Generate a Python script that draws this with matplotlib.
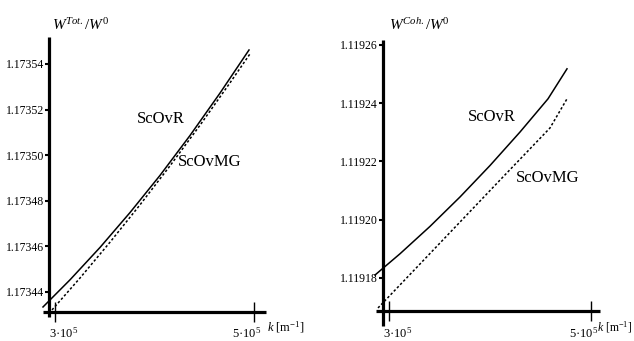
import matplotlib
matplotlib.use("Agg")
import matplotlib.pyplot as plt
import matplotlib.transforms as mtransforms

plt.rcParams['font.family'] = ['Liberation Serif', 'DejaVu Serif']
plt.rcParams['mathtext.fontset'] = 'custom'
plt.rcParams['mathtext.rm'] = 'Liberation Serif'
plt.rcParams['mathtext.it'] = 'Liberation Serif:italic'

# ---- data (left panel: total) ----
tot_r_k = [287940, 315075, 345225, 375375, 405525, 435675, 465825, 494970]
tot_r_w = [1.1734334, 1.1734453, 1.1734595, 1.1734748, 1.1734911, 1.1735086, 1.1735272, 1.1735461]
tot_mg_k = [296985, 325125, 355275, 385425, 415575, 445725, 475875, 495975]
tot_mg_w = [1.1734321, 1.1734461, 1.1734618, 1.1734782, 1.1734953, 1.1735131, 1.1735317, 1.1735444]
tot_yticks = [1.17344, 1.17346, 1.17348, 1.17350, 1.17352, 1.17354]

# ---- data (right panel: coherent) ----
coh_r_k = [286140, 310890, 340590, 370290, 399990, 429690, 457410, 476220]
coh_r_w = [1.1191810, 1.1191883, 1.1191977, 1.1192078, 1.1192186, 1.1192301, 1.1192415, 1.1192518]
coh_mg_k = [289110, 330690, 370290, 409890, 459390, 476220]
coh_mg_w = [1.1191697, 1.1191848, 1.1191992, 1.1192136, 1.1192315, 1.1192415]
coh_yticks = [1.11918, 1.11920, 1.11922, 1.11924, 1.11926]

xticks = [3e5, 5e5]
xtick_labels = ['3·10$^{5}$', '5·10$^{5}$']

W, H = 634, 341
fig = plt.figure(figsize=(W / 100, H / 100), dpi=100)


def px_axes(x0, x1, y0, y1):
    return fig.add_axes([x0 / W, 1 - y1 / H, (x1 - x0) / W, (y1 - y0) / H])


def setup(ax, xlim, ylim, xspine, yspine, yticks):
    ax.set_xlim(*xlim)
    ax.set_ylim(*ylim)
    ax.patch.set_alpha(0)
    for s in ['top', 'right']:
        ax.spines[s].set_visible(False)
    ax.spines['left'].set_position(('data', xspine))
    ax.spines['bottom'].set_position(('data', yspine))
    for s in ['left', 'bottom']:
        ax.spines[s].set_linewidth(2.3)
        ax.spines[s].set_capstyle('butt')
    ax.set_xticks(xticks)
    ax.set_xticklabels([])
    ax.tick_params(axis='x', direction='inout', length=14, width=1.0)
    ax.set_yticks(yticks)
    ax.set_yticklabels(['{:.5f}'.format(v) for v in yticks])
    ax.tick_params(axis='y', direction='out', length=3, width=1.5,
                   labelsize=8.5, pad=0.5)
    offs = [9, -7]
    for xv, lab, o in zip(xticks, xtick_labels, offs):
        tr = mtransforms.blended_transform_factory(ax.transData, fig.transFigure) \
            + mtransforms.ScaledTranslation(o / 100, 0, fig.dpi_scale_trans)
        ax.text(xv, 1 - 333 / H, lab, transform=tr,
                ha='center', va='center', fontsize=9)


# left panel
axL = px_axes(43, 266, 37, 317)
setup(axL, (287940, 512055), (1.1734290, 1.1735518), 294000, 1.1734312, tot_yticks)
axL.plot(tot_r_k, tot_r_w, color='black', lw=1.1, clip_on=False)
axL.plot(tot_mg_k, tot_mg_w, color='black', lw=1.1, dashes=(1.6, 1.4), clip_on=False)

# right panel
axR = px_axes(376, 600, 40, 326)
setup(axR, (287130, 508890), (1.1191635, 1.1192617), 294060, 1.1191687, coh_yticks)
axR.plot(coh_r_k, coh_r_w, color='black', lw=1.1, clip_on=False)
axR.plot(coh_mg_k, coh_mg_w, color='black', lw=1.1, dashes=(1.6, 1.4), clip_on=False)


def ftext(x, y, s, **kw):
    fig.text(x / W, 1 - y / H, s, **kw)


ftext(52, 25, r'$W^{Tot.}/W^{0}$', fontsize=11, ha='left', va='center')
ftext(389, 25, r'$W^{Coh.}/W^{0}$', fontsize=11, ha='left', va='center')
ftext(267, 327, r'$k$ [m$^{\mathregular{-1}}$]', fontsize=9, ha='left', va='center')
ftext(632, 327, r'$k$ [m$^{\mathregular{-1}}$]', fontsize=8.5, ha='right', va='center')

ftext(161, 119, 'ScOvR', fontsize=12, ha='center', va='center')
ftext(210, 162, 'ScOvMG', fontsize=12, ha='center', va='center')
ftext(492, 117, 'ScOvR', fontsize=12, ha='center', va='center')
ftext(548, 178, 'ScOvMG', fontsize=12, ha='center', va='center')

fig.savefig('out.png', dpi=100)
